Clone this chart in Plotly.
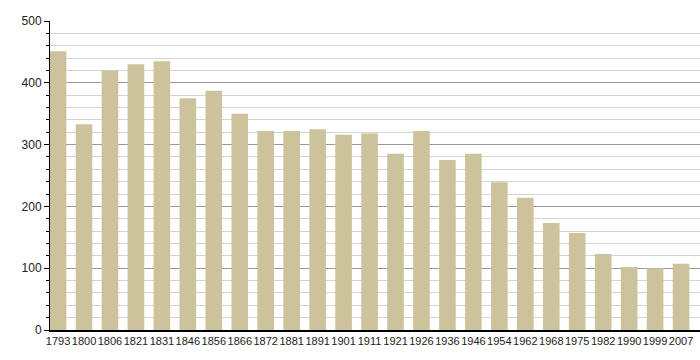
import plotly.graph_objects as go

years = ["1793", "1800", "1806", "1821", "1831", "1846", "1856", "1866", "1872", "1881",
         "1891", "1901", "1911", "1921", "1926", "1936", "1946", "1954", "1962", "1968",
         "1975", "1982", "1990", "1999", "2007"]
population = [451, 333, 420, 430, 435, 375, 387, 350, 322, 322,
              325, 316, 318, 285, 322, 275, 285, 239, 214, 173,
              157, 123, 102, 100, 107]
y_ticks = [0, 100, 200, 300, 400, 500]

fig = go.Figure()
fig.add_trace(go.Bar(
    x=years, y=population,
    marker=dict(color="#CCC39D", line=dict(width=0)),
    width=0.64,
))

fig.update_layout(
    width=700, height=360,
    margin=dict(l=50, r=0, t=21, b=30),
    paper_bgcolor="white", plot_bgcolor="white",
    showlegend=False,
    font=dict(family="Liberation Sans, Arial, sans-serif", color="#222"),
    xaxis=dict(
        type="category",
        range=[-0.31, 24.73],
        showgrid=False,
        showline=True, linecolor="black", linewidth=1.5,
        ticks="", tickfont=dict(size=11), tickangle=0,
        zeroline=False,
    ),
    yaxis=dict(
        range=[0, 500],
        tickvals=y_ticks,
        showline=True, linecolor="black", linewidth=1,
        ticks="outside", ticklen=5, tickcolor="black",
        tickfont=dict(size=12),
        showgrid=True, gridcolor="#999999", gridwidth=1,
        zeroline=False,
        minor=dict(dtick=20, showgrid=True, gridcolor="#d4d4d4", gridwidth=1,
                   ticks="outside", ticklen=3, tickcolor="black"),
    ),
)

fig.write_html("out.html")
